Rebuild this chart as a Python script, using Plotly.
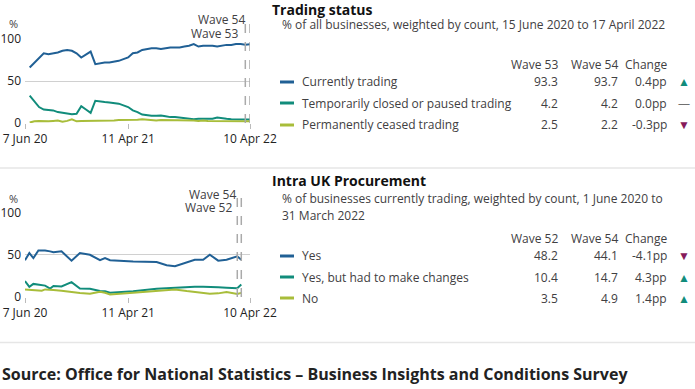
import plotly.graph_objects as go
import pandas as pd

W, H = 695, 389

# ---------------- data ----------------
trading_dates = pd.date_range("2020-06-21", "2022-04-10", freq="14D")
trading_current = [66, 72, 78, 83, 82, 83, 84, 86, 87, 86, 83, 78, 81, 85, 70, 71, 72, 72,
                   73, 74, 76, 78, 83, 84, 87, 88, 89, 89, 88, 89, 90, 90, 90, 91, 92, 94,
                   91, 92, 92, 92, 91, 92, 93, 93, 94, 94, 93.3, 93.7]
trading_paused = [32.5, 25, 19, 16, 15.5, 15, 13, 12, 11, 10.5, 11, 20, 16, 12, 26.5, 25.5,
                  25, 24.5, 24, 23, 21, 19, 15, 13, 10, 9, 8.5, 8.5, 9, 8, 7, 7, 6.5, 6, 5,
                  4.5, 5, 5, 5, 5, 6.5, 5.5, 5, 4.5, 4.5, 4.5, 4.2, 4.2]
trading_ceased = [0.5, 2, 2.5, 2, 2, 2.5, 3, 1.5, 2.5, 4.5, 2, 2.5, 2.5, 3, 3, 3, 3, 3, 3,
                  3.5, 3.5, 3.5, 4, 4, 4.5, 4, 3.5, 3, 3.5, 3.5, 3, 3, 3.5, 3, 3, 3, 2.5,
                  3, 2.5, 2.5, 2.5, 2.5, 2, 2.5, 2.5, 2.5, 2.5, 2.2]
trading_waves = {"Wave 53": "2022-03-27", "Wave 54": "2022-04-10"}

proc_dates = ["2020-06-07", "2020-06-20", "2020-07-02", "2020-07-17", "2020-07-27",
              "2020-08-06", "2020-08-21", "2020-08-31", "2020-09-24", "2020-10-24",
              "2020-11-18", "2020-12-18", "2021-01-17", "2021-02-01", "2021-02-16",
              "2021-04-26", "2021-07-05", "2021-08-04", "2021-08-29", "2021-10-03",
              "2021-10-27", "2021-11-21", "2021-12-11", "2022-01-05", "2022-01-30",
              "2022-03-03", "2022-03-15"]
proc_yes = [43.5, 52, 46, 55, 55, 55, 54, 53, 54, 43, 52, 50, 43.5, 46, 43.5, 42, 41.5,
            37.6, 36.5, 41.5, 44, 44, 50, 43, 44, 48.2, 44.1]
proc_changes = [18.8, 12, 15.5, 15, 14, 13.5, 10, 13, 12.5, 17.6, 10, 9.8, 7, 6.7, 5, 6.7,
                9.8, 10.5, 11, 11.5, 12, 12, 12, 11.4, 11, 10.4, 14.7]
proc_no = [9, 8.5, 8.2, 7, 7.5, 9, 9, 8.2, 7.5, 5.9, 4.7, 3.9, 6.3, 5, 3.1, 5, 7.5, 8.5, 9,
           7, 6, 5, 3.9, 4.3, 5.9, 3.5, 4.9]
proc_waves = {"Wave 52": "2022-03-03", "Wave 54": "2022-03-15"}

x_ticks = ["2020-06-07", "2021-04-11", "2022-04-10"]
x_ticktext = ["7 Jun 20", "11 Apr 21", "10 Apr 22"]
y_ticks = [0, 50, 100]

trading_labels = ["Currently trading", "Temporarily closed or paused trading", "Permanently ceased trading"]
trading_w53 = [93.3, 4.2, 2.5]
trading_w54 = [93.7, 4.2, 2.2]
trading_change = [0.4, 0.0, -0.3]

proc_labels = ["Yes", "Yes, but had to make changes", "No"]
proc_w52 = [48.2, 10.4, 3.5]
proc_w54 = [44.1, 14.7, 4.9]
proc_change = [-4.1, 4.3, 1.4]

# ---------------- styles ----------------
COLORS = ["#206095", "#118c7b", "#a8bd3a"]
TXT = "#414042"
FONT = "Open Sans"
UP, DOWN, FLAT = "#118c7b", "#871a5b", "#707070"
FS = 12


def px(x):
    return x / W


def py(y):
    return 1 - y / H


fig = go.Figure()

for vals, c in zip([trading_current, trading_paused, trading_ceased], COLORS):
    fig.add_trace(go.Scatter(x=trading_dates, y=vals, mode="lines", xaxis="x", yaxis="y",
                             line=dict(color=c, width=2), hoverinfo="skip", showlegend=False))
for vals, c in zip([proc_yes, proc_changes, proc_no], COLORS):
    fig.add_trace(go.Scatter(x=proc_dates, y=vals, mode="lines", xaxis="x2", yaxis="y2",
                             line=dict(color=c, width=2), hoverinfo="skip", showlegend=False))

xcommon = dict(range=["2020-06-07", "2022-04-10"], tickvals=x_ticks, ticktext=x_ticktext,
               ticks="outside", ticklen=5, tickcolor="#bbbbbb", showgrid=False, showline=False,
               zeroline=False, automargin=False,
               tickfont=dict(family=FONT, size=12, color="#222222"), fixedrange=True)
ycommon = dict(range=[0, 100], tickvals=y_ticks, showgrid=True, gridcolor="#d0d0d0", gridwidth=1,
               zeroline=False, showline=False, ticks="", automargin=False, ticklabelstandoff=3,
               tickfont=dict(family=FONT, size=12, color="#222222"), fixedrange=True)

fig.update_layout(
    template="none",
    width=W, height=H, margin=dict(l=0, r=0, t=0, b=0, pad=0, autoexpand=False),
    paper_bgcolor="white", plot_bgcolor="white",
    xaxis=dict(domain=[px(25), px(250)], anchor="y", **xcommon),
    yaxis=dict(domain=[py(123), py(39)], anchor="x", **ycommon),
    xaxis2=dict(domain=[px(25), px(250)], anchor="y2", **xcommon),
    yaxis2=dict(domain=[py(297), py(212.5)], anchor="x2", **ycommon),
    font=dict(family=FONT, color=TXT),
)

shapes = []
ann = []

# dashed wave lines
for d in trading_waves.values():
    shapes.append(dict(type="line", xref="x", yref="paper", x0=d, x1=d, y0=py(123), y1=py(15),
                       line=dict(color="#aaaaaa", width=1.5, dash="dash")))
for d in proc_waves.values():
    shapes.append(dict(type="line", xref="x2", yref="paper", x0=d, x1=d, y0=py(297), y1=py(192),
                       line=dict(color="#aaaaaa", width=1.5, dash="dash")))

# wave labels (latest on top)
ann.append(dict(xref="x", yref="paper", x=trading_waves["Wave 54"], y=py(20), text="Wave 54",
                xanchor="right", yanchor="middle", xshift=-3, showarrow=False, font=dict(size=FS, color=TXT)))
ann.append(dict(xref="x", yref="paper", x=trading_waves["Wave 53"], y=py(33), text="Wave 53",
                xanchor="right", yanchor="middle", xshift=-5, showarrow=False, font=dict(size=FS, color=TXT)))
ann.append(dict(xref="x2", yref="paper", x=proc_waves["Wave 54"], y=py(194), text="Wave 54",
                xanchor="right", yanchor="middle", xshift=-3, showarrow=False, font=dict(size=FS, color=TXT)))
ann.append(dict(xref="x2", yref="paper", x=proc_waves["Wave 52"], y=py(207), text="Wave 52",
                xanchor="right", yanchor="middle", xshift=-3, showarrow=False, font=dict(size=FS, color=TXT)))

# % labels
for yy in (24, 198):
    ann.append(dict(xref="paper", yref="paper", x=px(14), y=py(yy), text="%", showarrow=False,
                    xanchor="center", yanchor="middle", font=dict(size=11, color=TXT)))

# separators
for yy in (168, 342.5):
    shapes.append(dict(type="line", xref="paper", yref="paper", x0=0, x1=1, y0=py(yy), y1=py(yy),
                       line=dict(color="#e6e6e6", width=1.5)))


def fmt_change(v):
    return f"{v:.1f}pp"


def panel(title, sub_lines, title_y, sub_y, head_y, row_ys, wave_a, wave_b, labels, va, vb, ch):
    ann.append(dict(xref="paper", yref="paper", x=px(270), y=py(title_y), text=f"<b>{title}</b>",
                    xanchor="left", yanchor="middle", showarrow=False, font=dict(size=14, color="#111111")))
    for s, yy in zip(sub_lines, sub_y):
        ann.append(dict(xref="paper", yref="paper", x=px(280), y=py(yy), text=s, xanchor="left",
                        yanchor="middle", showarrow=False, font=dict(size=FS, color=TXT)))
    for txt, xr in ((wave_a, 560), (wave_b, 620), ("Change", 669)):
        ann.append(dict(xref="paper", yref="paper", x=px(xr), y=py(head_y), text=txt, xanchor="right",
                        yanchor="middle", showarrow=False, font=dict(size=FS, color=TXT)))
    for i, yy in enumerate(row_ys):
        shapes.append(dict(type="line", xref="paper", yref="paper", x0=px(280), x1=px(294), y0=py(yy), y1=py(yy),
                           line=dict(color=COLORS[i], width=3)))
        ann.append(dict(xref="paper", yref="paper", x=px(300), y=py(yy), text=labels[i], xanchor="left",
                        yanchor="middle", showarrow=False, font=dict(size=FS, color=TXT)))
        for val, xr in ((f"{va[i]:.1f}", 560), (f"{vb[i]:.1f}", 620), (fmt_change(ch[i]), 669)):
            ann.append(dict(xref="paper", yref="paper", x=px(xr), y=py(yy), text=val, xanchor="right",
                            yanchor="middle", showarrow=False, font=dict(size=FS, color=TXT)))
        if ch[i] > 0:
            sym, col, sz = "▲", UP, 12
        elif ch[i] < 0:
            sym, col, sz = "▼", DOWN, 12
        else:
            sym, col, sz = "—", FLAT, 12
        ann.append(dict(xref="paper", yref="paper", x=px(684), y=py(yy), text=sym, xanchor="center",
                        yanchor="middle", showarrow=False, font=dict(size=sz, color=col)))


panel("Trading status", ["% of all businesses, weighted by count, 15 June 2020 to 17 April 2022"],
      9, [25], 64.5, [82, 103, 125], "Wave 53", "Wave 54",
      trading_labels, trading_w53, trading_w54, trading_change)
panel("Intra UK Procurement", ["% of businesses currently trading, weighted by count, 1 June 2020 to",
                               "31 March 2022"],
      180, [199, 215], 238, [256, 277, 298], "Wave 52", "Wave 54",
      proc_labels, proc_w52, proc_w54, proc_change)

ann.append(dict(xref="paper", yref="paper", x=0, y=py(374),
                text="<b>Source: Office for National Statistics – Business Insights and Conditions Survey</b>",
                xanchor="left", yanchor="middle", showarrow=False, font=dict(size=16, color="#222222")))

fig.update_layout(shapes=shapes, annotations=ann)
fig.write_html("out.html", config={"displayModeBar": False},
               post_script="document.body.style.margin='0';")
